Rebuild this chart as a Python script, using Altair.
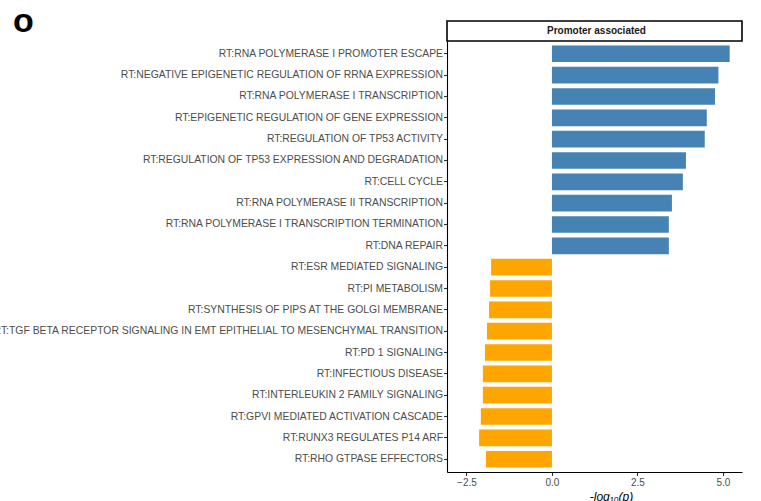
import altair as alt
import pandas as pd

# Reactome terms, listed top to bottom
terms = [
    "RT:RNA POLYMERASE I PROMOTER ESCAPE",
    "RT:NEGATIVE EPIGENETIC REGULATION OF RRNA EXPRESSION",
    "RT:RNA POLYMERASE I TRANSCRIPTION",
    "RT:EPIGENETIC REGULATION OF GENE EXPRESSION",
    "RT:REGULATION OF TP53 ACTIVITY",
    "RT:REGULATION OF TP53 EXPRESSION AND DEGRADATION",
    "RT:CELL CYCLE",
    "RT:RNA POLYMERASE II TRANSCRIPTION",
    "RT:RNA POLYMERASE I TRANSCRIPTION TERMINATION",
    "RT:DNA REPAIR",
    "RT:ESR MEDIATED SIGNALING",
    "RT:PI METABOLISM",
    "RT:SYNTHESIS OF PIPS AT THE GOLGI MEMBRANE",
    "RT:TGF BETA RECEPTOR SIGNALING IN EMT EPITHELIAL TO MESENCHYMAL TRANSITION",
    "RT:PD 1 SIGNALING",
    "RT:INFECTIOUS DISEASE",
    "RT:INTERLEUKIN 2 FAMILY SIGNALING",
    "RT:GPVI MEDIATED ACTIVATION CASCADE",
    "RT:RUNX3 REGULATES P14 ARF",
    "RT:RHO GTPASE EFFECTORS",
]
# signed -log10(p)
scores = [5.20, 4.87, 4.77, 4.53, 4.47, 3.92, 3.83, 3.51, 3.42, 3.42,
          -1.78, -1.81, -1.84, -1.90, -1.96, -2.02, -2.02, -2.08, -2.13, -1.93]
groups = ["up"] * 10 + ["down"] * 10

strip_label = ["Promoter associated"]
tag_label = ["o"]
x_ticks = [-2.5, 0.0, 2.5, 5.0]

W, H = 295, 431

df = pd.DataFrame({"term": terms, "score": scores, "group": groups})
strip_df = pd.DataFrame({"label": strip_label})
tag_df = pd.DataFrame({"label": tag_label})

bars = alt.Chart(df).mark_bar().encode(
    x=alt.X(
        "score:Q",
        scale=alt.Scale(domain=[-3.07, 5.56], nice=False, zero=False),
        axis=alt.Axis(
            values=x_ticks,
            format=".1f",
            title="-log\u2081\u2080(p)",
            titleFontStyle="italic",
            titleFontWeight="normal",
            titleFontSize=12,
            titleColor="#000000",
            titleX=164,
            titleY=19,
            labelFontSize=10,
        ),
    ),
    y=alt.Y(
        "term:N",
        sort=terms,
        scale=alt.Scale(paddingInner=0.22, paddingOuter=0.21),
        axis=alt.Axis(title=None, labelLimit=1000, labelPadding=1, labelFontSize=10.4),
    ),
    color=alt.Color(
        "group:N",
        scale=alt.Scale(domain=["up", "down"], range=["#4682B4", "#FFA500"]),
        legend=None,
    ),
)

# facet-style strip above the panel
strip_box = alt.Chart(strip_df).mark_rect(
    fill="white", stroke="black", strokeWidth=1.6
).encode(
    x=alt.value(0), x2=alt.value(W), y=alt.value(-20), y2=alt.value(0)
)
strip_text = alt.Chart(strip_df).mark_text(
    font="Liberation Sans", fontSize=10, fontWeight="bold", color="#1A1A1A",
    align="center", baseline="middle",
).encode(x=alt.value(W / 2 + 2), y=alt.value(-10), text="label:N")

# panel tag
tag = alt.Chart(tag_df).mark_text(
    font="Liberation Sans", fontSize=34, fontWeight="bold", color="black",
    align="left", baseline="alphabetic",
).encode(x=alt.value(-434), y=alt.value(-9), text="label:N")

chart = (
    alt.layer(bars, strip_box, strip_text, tag)
    .properties(
        width=W,
        height=H,
        autosize=alt.AutoSizeParams(type="none"),
        padding={"left": 447, "top": 41, "right": 19, "bottom": 29},
        background="white",
    )
    .configure_view(strokeWidth=0)
    .configure_axis(
        grid=False,
        domainColor="#000000",
        domainWidth=1.1,
        tickColor="#333333",
        tickWidth=1.1,
        tickSize=3.5,
        labelColor="#4D4D4D",
        labelFont="Liberation Sans",
        titleFont="Liberation Sans",
    )
)

chart.save("out.html", embed_options={"renderer": "svg", "actions": False})
